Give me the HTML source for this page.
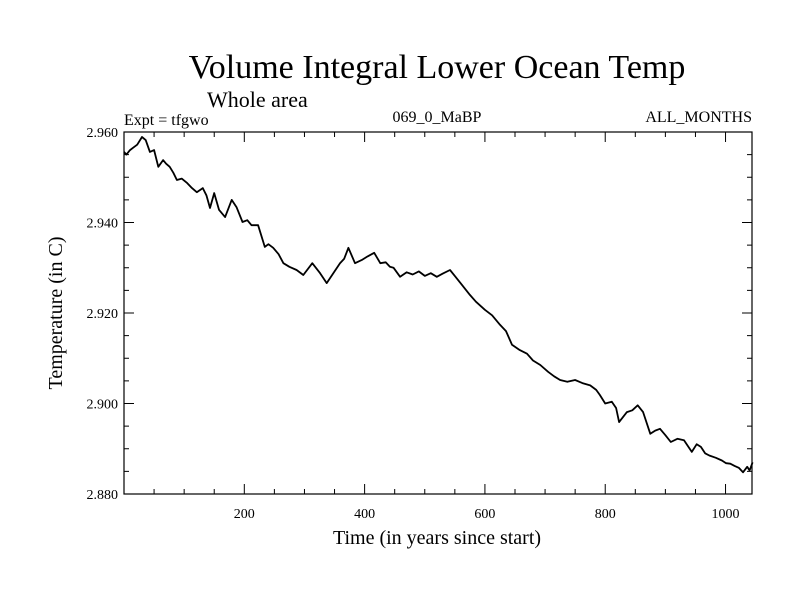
<!DOCTYPE html>
<html><head><meta charset="utf-8"><style>
body{margin:0;background:#fff;width:800px;height:600px;overflow:hidden}
svg{font-family:"Liberation Serif",serif}
</style></head><body>
<svg id="chart" width="800" height="600">
<text x="437" y="78" font-size="34" text-anchor="middle">Volume Integral Lower Ocean Temp</text>
<text x="207" y="107" font-size="22">Whole area</text>
<text x="124" y="125" font-size="16">Expt = tfgwo</text>
<text x="437" y="122" font-size="16" text-anchor="middle">069_0_MaBP</text>
<text x="752" y="122" font-size="16" text-anchor="end">ALL_MONTHS</text>
<text x="437" y="544" font-size="20" text-anchor="middle">Time (in years since start)</text>
<text transform="translate(62,313) rotate(-90)" font-size="20" text-anchor="middle">Temperature (in C)</text>
<g id="axes"></g>
<path id="series" fill="none" stroke="#000" stroke-width="1.8" stroke-linejoin="round"></path>
<rect x="124" y="132" width="628" height="362" fill="none" stroke="#000" stroke-width="1.2"></rect>
</svg>
<script>
const years=[0,4,10,15,22,30,36,43,50,57,65,70,76,82,88,96,105,113,121,131,137,143,150,158,168,179,187,197,205,212,223,234,240,248,257,265,275,287,298,313,326,337,348,359,366,373,384,395,405,416,426,435,442,448,459,470,480,490,500,510,520,530,542,550,560,575,585,600,612,625,635,645,658,670,680,692,705,715,725,737,750,762,775,785,791,800,811,818,823,836,845,854,863,875,883,891,900,909,920,931,944,952,959,966,973,984,994,1001,1008,1015,1022,1029,1036,1040,1045];
const temps=[2.9556,2.9550,2.9560,2.9565,2.9572,2.9589,2.9582,2.9556,2.9560,2.9523,2.9538,2.9530,2.9523,2.9510,2.9494,2.9497,2.9487,2.9476,2.9467,2.9476,2.9460,2.9432,2.9465,2.9428,2.9412,2.9450,2.9434,2.9401,2.9405,2.9394,2.9394,2.9346,2.9352,2.9344,2.9330,2.9310,2.9302,2.9295,2.9284,2.9310,2.9288,2.9266,2.9288,2.9310,2.9320,2.9344,2.9310,2.9317,2.9325,2.9333,2.9310,2.9312,2.9302,2.9300,2.9280,2.9290,2.9285,2.9292,2.9282,2.9288,2.9280,2.9287,2.9295,2.9282,2.9265,2.9240,2.9225,2.9207,2.9195,2.9174,2.9160,2.9130,2.9118,2.9110,2.9095,2.9085,2.9070,2.9060,2.9052,2.9048,2.9052,2.9045,2.9040,2.9030,2.9019,2.9000,2.9004,2.8990,2.8959,2.8981,2.8985,2.8996,2.8981,2.8933,2.8940,2.8944,2.8930,2.8915,2.8922,2.8919,2.8893,2.8910,2.8904,2.8890,2.8885,2.8880,2.8874,2.8868,2.8867,2.8862,2.8858,2.8848,2.8860,2.8852,2.8870];
const xTicks=[200,400,600,800,1000];
const yTicks=[2.880,2.900,2.920,2.940,2.960];
const X0=124,X1=752,Y0=494,Y1=132,XMAX=1044,YMIN=2.880,YMAX=2.960;
const sx=v=>X0+v/XMAX*(X1-X0);
const sy=v=>Y0-(v-YMIN)/(YMAX-YMIN)*(Y0-Y1);
const NS="http://www.w3.org/2000/svg";
const g=document.getElementById('axes');
function ln(x1,y1,x2,y2){const l=document.createElementNS(NS,'line');l.setAttribute('x1',x1);l.setAttribute('y1',y1);l.setAttribute('x2',x2);l.setAttribute('y2',y2);l.setAttribute('stroke','#000');l.setAttribute('stroke-width','1');


g.appendChild(l);}
function tx(x,y,s,a){const t=document.createElementNS(NS,'text');t.setAttribute('x',x);t.setAttribute('y',y);t.setAttribute('font-size','14');t.setAttribute('text-anchor',a);t.textContent=s;


g.appendChild(t);}
for(let v=50;v<XMAX;v+=50){const x=sx(v),len=(v%200===0)?10:5;ln(x,Y0,x,Y0-len);ln(x,Y1,x,Y1+len);}
xTicks.forEach(v=>tx(sx(v),518,String(v),'middle'));
for(let i=0;i<=16;i++){const v=YMIN+i*0.005,y=sy(v),len=(i%4===0)?10:5;ln(X0,y,X0+len,y);ln(X1,y,X1-len,y);}
yTicks.forEach(v=>tx(X0-6,sy(v)+5,v.toFixed(3),'end'));
let d='';years.forEach((y,i)=>{d+=(i?'L':'M')+sx(y).toFixed(1)+','+sy(temps[i]).toFixed(1);});
document.getElementById('series').setAttribute('d',d);
</script>
</body></html>
